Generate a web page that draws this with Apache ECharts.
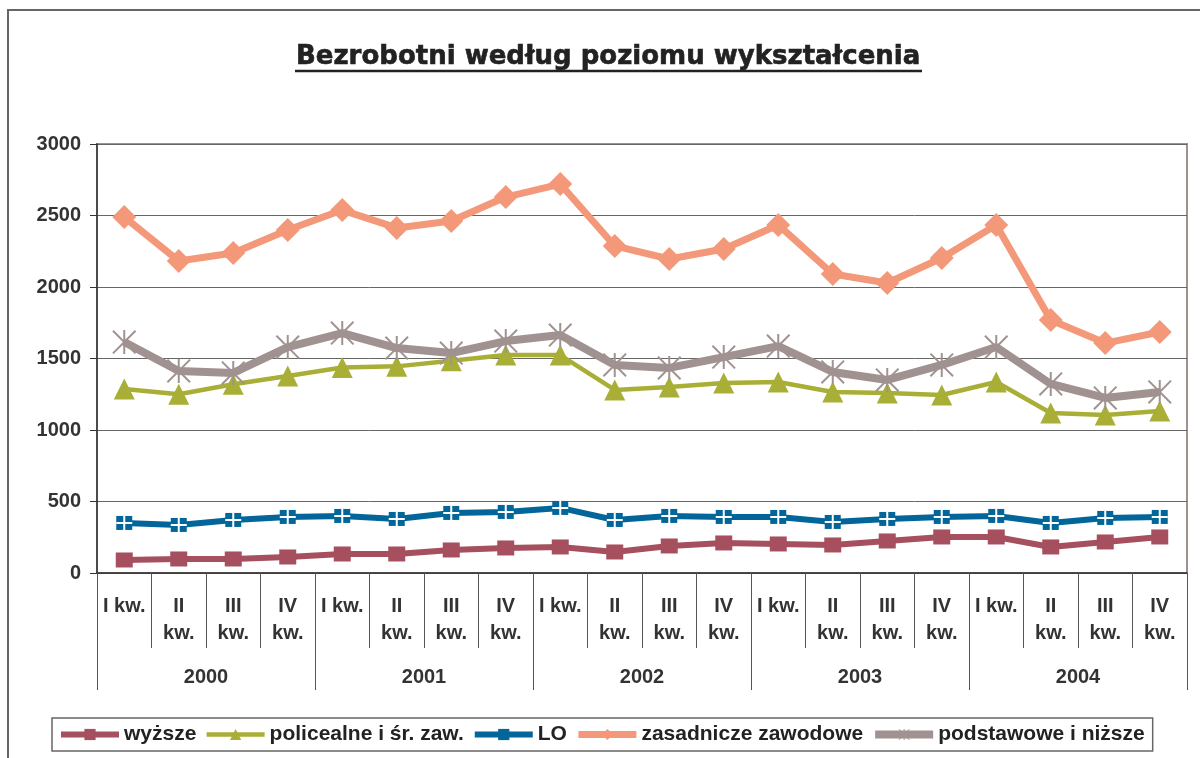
<!DOCTYPE html>
<html>
<head>
<meta charset="utf-8">
<script src="https://cdn.jsdelivr.net/npm/echarts@6/dist/echarts.min.js"></script>
<style>
  html, body { margin: 0; padding: 0; background: #fff; }
  #chart { width: 1200px; height: 758px; }
</style>
</head>
<body>
<div id="chart"></div>
<script>
// dane
var years = ['2000', '2001', '2002', '2003', '2004'];
var quarters = ['I kw.', 'II kw.', 'III kw.', 'IV kw.'];

var wyzsze = [91, 98, 98, 112, 133, 133, 161, 175, 182, 147, 189, 210, 203, 196, 224, 252, 252, 182, 217, 252];
var policealne = [1287, 1250, 1320, 1378, 1437, 1445, 1485, 1524, 1524, 1280, 1301, 1329, 1336, 1266, 1259, 1245, 1336, 1119, 1105, 1133];
var lo = [350, 336, 371, 392, 399, 378, 420, 427, 455, 371, 399, 392, 392, 357, 378, 392, 399, 350, 385, 392];
var zasadnicze = [2490, 2182, 2238, 2399, 2538, 2413, 2462, 2629, 2720, 2287, 2196, 2266, 2434, 2091, 2028, 2203, 2434, 1769, 1608, 1685];
var podstawowe = [1615, 1413, 1399, 1580, 1678, 1573, 1538, 1622, 1664, 1455, 1434, 1510, 1587, 1406, 1350, 1455, 1580, 1322, 1224, 1266];

var categories = [];
years.forEach(function (y) {
  quarters.forEach(function (q) { categories.push(q); });
});

var txt = '#333';
var font = 'Liberation Sans';

// symbole w stylu Excela
var starPath = 'path://M0,1.4L1.4,0L24,22.6L22.6,24Z M22.6,0L24,1.4L1.4,24L0,22.6Z M11,0L13,0L13,24L11,24Z';
var plusPath = 'path://M7,0L9,0L9,6L16,6L16,8L9,8L9,14L7,14L7,8L0,8L0,6L7,6Z';

var chart = echarts.init(document.getElementById('chart'));

var option = {
  backgroundColor: '#fff',
  animation: false,
  title: {
    text: 'Bezrobotni według poziomu wykształcenia',
    left: 296,
    top: 39,
    padding: [5, 0, 5, 0],
    textStyle: {
      fontFamily: 'DejaVu Sans', fontWeight: 'bold', fontSize: 26, color: '#222',
      textBorderColor: '#222', textBorderWidth: 0.6
    }
  },
  graphic: [
    { type: 'rect', z: -1, shape: { x: 8, y: 10, width: 1300, height: 900 },
      style: { fill: 'none', stroke: '#666', lineWidth: 2 } },
    { type: 'line', shape: { x1: 295, y1: 71, x2: 922, y2: 71 },
      style: { stroke: '#222', lineWidth: 2.5 } }
  ],
  legend: {
    data: ['wyższe', 'policealne i śr. zaw.', 'LO', 'zasadnicze zawodowe', 'podstawowe i niższe'],
    top: 718,
    left: 52,
    itemWidth: 58,
    itemHeight: 14,
    itemGap: 8,
    padding: [6, 8, 6, 6],
    borderColor: '#666',
    borderWidth: 1.5,
    lineStyle: { width: 'inherit' },
    textStyle: { fontFamily: font, fontWeight: 'bold', fontSize: 21, color: '#222' }
  },
  grid: {
    left: 97, right: 13, top: 144, bottom: 185,
    show: true, borderColor: '#9d928e', borderWidth: 2
  },
  xAxis: [
    {
      type: 'category',
      data: categories,
      position: 'bottom',
      axisLine: { lineStyle: { color: '#333', width: 1.5 } },
      axisTick: { show: true, length: 75, interval: 0, lineStyle: { color: '#555' } },
      axisLabel: {
        interval: 0, margin: 20, color: txt, fontFamily: font, fontWeight: 'bold', fontSize: 20, lineHeight: 27,
        formatter: function (v) { return v === 'I kw.' ? v : v.replace(' ', '\n'); }
      }
    },
    {
      type: 'category',
      data: years,
      position: 'bottom',
      axisLine: { show: false },
      axisTick: { show: true, length: 117, lineStyle: { color: '#555' } },
      axisLabel: { margin: 94, color: txt, fontFamily: font, fontWeight: 'bold', fontSize: 20 }
    }
  ],
  yAxis: {
    type: 'value',
    min: 0, max: 3000, interval: 500,
    axisLine: { show: true, lineStyle: { color: '#333', width: 1.5 } },
    axisTick: { show: true, length: 7, lineStyle: { color: '#333' } },
    splitLine: { lineStyle: { color: '#666', width: 1 } },
    axisLabel: {
      margin: 16, color: txt, fontFamily: font, fontWeight: 'bold', fontSize: 20,
      formatter: function (v) { return String(v); }
    }
  },
  series: [
    {
      name: 'wyższe', type: 'line', data: wyzsze,
      symbol: 'rect', symbolSize: [17, 15],
      lineStyle: { color: '#a64f5e', width: 6 },
      itemStyle: { color: '#a64f5e' }
    },
    {
      name: 'policealne i śr. zaw.', type: 'line', data: policealne,
      symbol: 'triangle', symbolSize: 21,
      lineStyle: { color: '#a9af36', width: 4.5 },
      itemStyle: { color: '#a9af36' }
    },
    {
      name: 'LO', type: 'line', data: lo,
      symbol: 'rect', symbolSize: [16, 14],
      lineStyle: { color: '#03669a', width: 6 },
      itemStyle: { color: '#03669a' }
    },
    {
      name: 'LO-krzyz', type: 'line', data: lo, silent: true,
      symbol: plusPath, symbolSize: [16, 14],
      lineStyle: { width: 0, opacity: 0 },
      itemStyle: { color: '#fff' }
    },
    {
      name: 'zasadnicze zawodowe', type: 'line', data: zasadnicze,
      symbol: 'diamond', symbolSize: 24,
      lineStyle: { color: '#f4987a', width: 7 },
      itemStyle: { color: '#f4987a' }
    },
    {
      name: 'podstawowe i niższe', type: 'line', data: podstawowe,
      symbol: starPath, symbolSize: 24,
      lineStyle: { color: '#a09290', width: 8 },
      itemStyle: { color: '#a09290' }
    }
  ]
};

chart.setOption(option);
</script>
</body>
</html>
